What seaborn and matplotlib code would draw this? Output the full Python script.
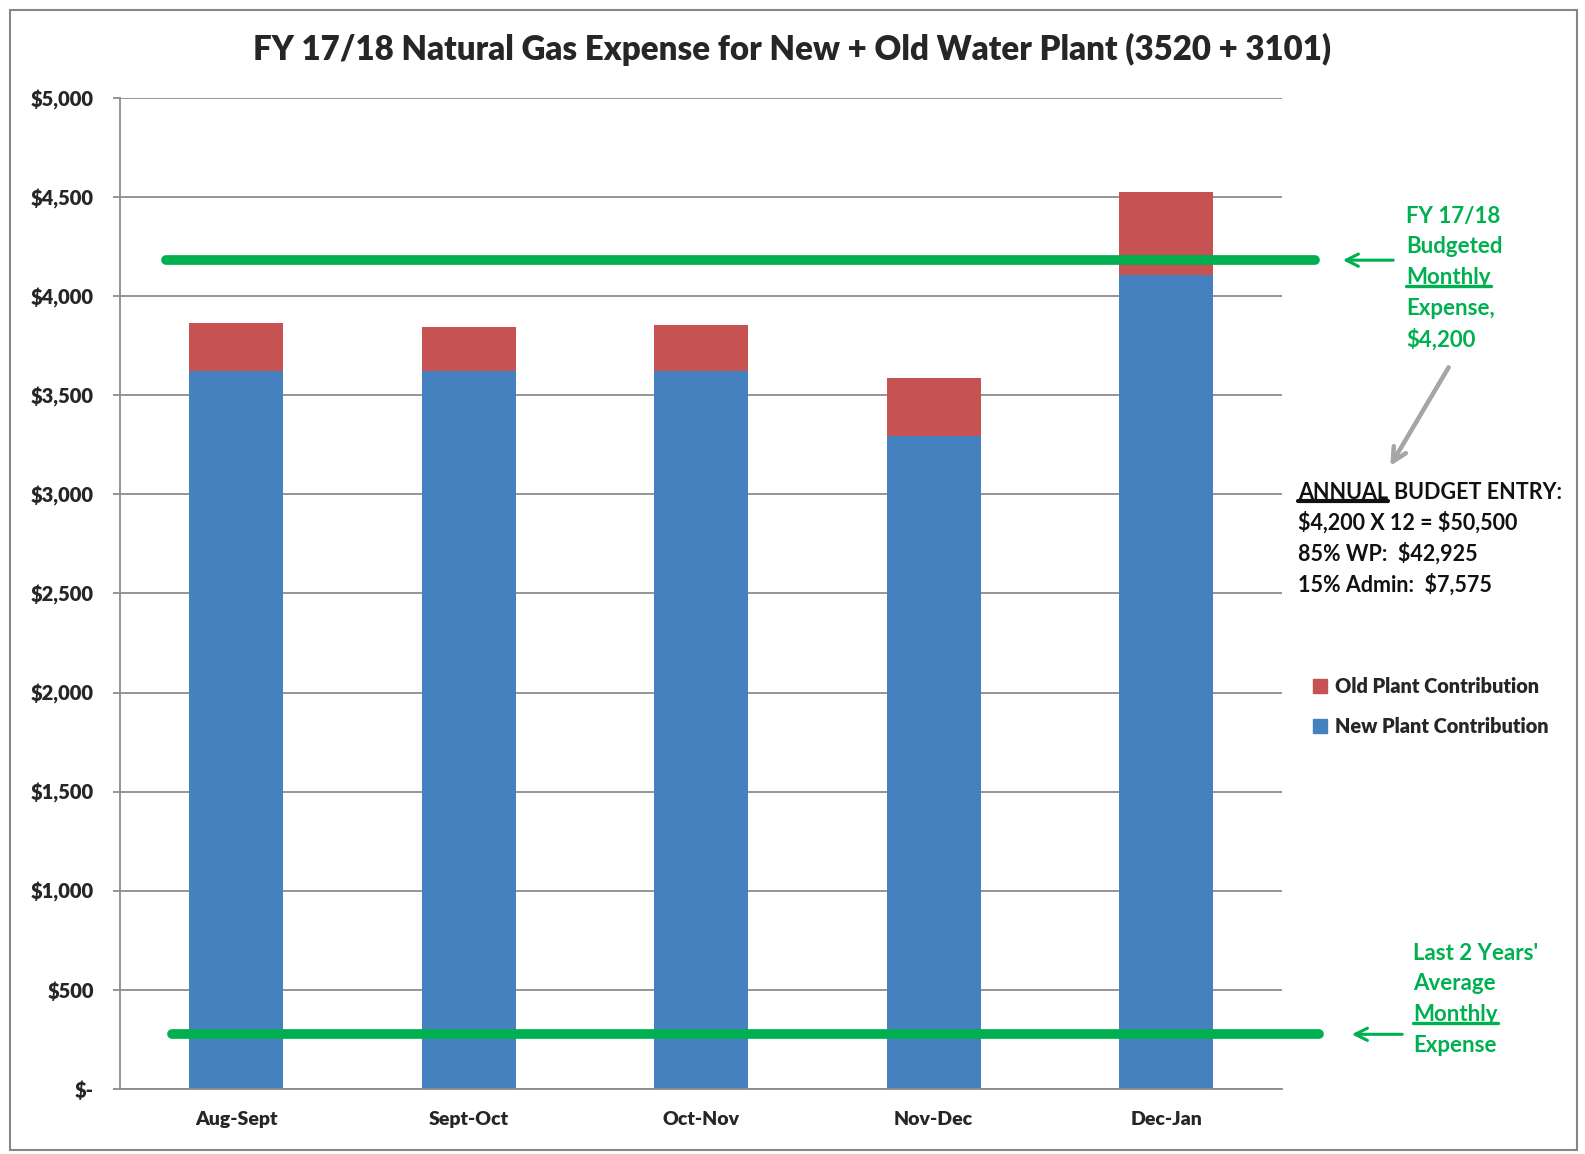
import matplotlib
matplotlib.use("Agg")
import matplotlib.pyplot as plt
import seaborn as sns
import pandas as pd
from matplotlib.patches import Patch, Rectangle
from matplotlib.lines import Line2D

# ----------------------------- data -----------------------------
periods = ["Aug-Sept", "Sept-Oct", "Oct-Nov", "Nov-Dec", "Dec-Jan"]
new_plant = [3623, 3623, 3623, 3294, 4109]
old_plant = [244, 220, 230, 292, 419]
budget_monthly = 4182
last2yr_avg = 275
ytick_values = [0, 500, 1000, 1500, 2000, 2500, 3000, 3500, 4000, 4500, 5000]
ytick_labels = ["$-", "$500", "$1,000", "$1,500", "$2,000", "$2,500",
                "$3,000", "$3,500", "$4,000", "$4,500", "$5,000"]

budget_note = ["FY 17/18", "Budgeted", "Monthly", "Expense,", "$4,200"]
avg_note = ["Last 2 Years'", "Average", "Monthly", "Expense"]
annual_note = ["$4,200 X 12 = $50,500", "85% WP:  $42,925", "15% Admin:  $7,575"]
# ----------------------------------------------------------------

BLUE = "#4681BF"
RED = "#C65252"
GREEN = "#00B050"
GRID = "#8C8C8C"

sns.set_style("white")
plt.rcParams["font.family"] = ["Lato", "DejaVu Sans"]
plt.rcParams["text.parse_math"] = False

df = pd.DataFrame({"period": periods, "new": new_plant, "old": old_plant})
df["total"] = df["new"] + df["old"]

fig = plt.figure(figsize=(15.85, 11.54), dpi=100)
ax = fig.add_axes([0.0757, 0.0565, 0.7333, 0.8585])

# stacked bars: total (red) underneath, new plant (blue) on top
sns.barplot(data=df, x="period", y="total", color=RED, width=0.405,
            errorbar=None, linewidth=0, saturation=1, ax=ax, zorder=2)
sns.barplot(data=df, x="period", y="new", color=BLUE, width=0.405,
            errorbar=None, linewidth=0, saturation=1, ax=ax, zorder=2)

ax.set_xlim(-0.5, len(periods) - 0.5)
ax.set_ylim(0, 5000)
ax.set_yticks(ytick_values)
ax.set_yticklabels(ytick_labels, fontsize=14.5, fontweight="heavy")
ax.set_xticks(range(len(periods)))
ax.set_xticklabels(periods, fontsize=14, fontweight="heavy")
ax.set_xticks([i - 0.5 for i in range(len(periods) + 1)], minor=True)
ax.tick_params(axis="x", which="major", length=0, pad=16)
ax.tick_params(axis="x", which="minor", length=5, width=1.3, color=GRID, direction="out")
ax.tick_params(axis="y", length=5, width=1.3, color=GRID, direction="out", pad=14, left=True)
ax.set_xlabel("")
ax.set_ylabel("")
ax.grid(axis="y", color=GRID, linewidth=1.3, zorder=0)
ax.set_axisbelow(True)
for s in ["top", "right"]:
    ax.spines[s].set_visible(False)
for s in ["left", "bottom"]:
    ax.spines[s].set_color(GRID)
    ax.spines[s].set_linewidth(1.3)

# reference lines
ax.axhline(budget_monthly, xmin=0.04, xmax=1.028, color=GREEN, linewidth=7,
           clip_on=False, zorder=4)
ax.axhline(last2yr_avg, xmin=0.045, xmax=1.032, color=GREEN, linewidth=7,
           clip_on=False, zorder=4)

fig.suptitle("FY 17/18 Natural Gas Expense for New + Old Water Plant (3520 + 3101)",
             x=0.5, y=0.957, fontsize=23.8, fontweight="heavy", va="center")

W, H = 1585, 1154


def fx(px):
    return px / W


def fy(py):
    return 1 - py / H


renderer = fig.canvas.get_renderer()


def underline(t, color, lw):
    bb = t.get_window_extent(renderer=renderer)
    y = bb.y0 + 2
    fig.add_artist(Line2D([bb.x0 / W, bb.x1 / W], [y / H, y / H], color=color,
                          linewidth=lw, transform=fig.transFigure))


NOTE_SIZE = 15.5
GREEN_SIZE = 16

# green annotation: budget
for i, line in enumerate(budget_note):
    t = fig.text(fx(1406), fy(216 + i * 30.8), line, color=GREEN, fontsize=GREEN_SIZE,
                 fontweight="bold", va="center", ha="left")
    if line == "Monthly":
        underline(t, GREEN, 2.4)

ax.annotate("", xy=(fx(1340), budget_monthly), xytext=(fx(1396), budget_monthly),
            xycoords=("figure fraction", "data"), textcoords=("figure fraction", "data"),
            arrowprops=dict(arrowstyle="->", color=GREEN, lw=2.2, mutation_scale=22),
            annotation_clip=False)

# green annotation: last 2 years
for i, line in enumerate(avg_note):
    t = fig.text(fx(1413), fy(953 + i * 30.8), line, color=GREEN, fontsize=GREEN_SIZE,
                 fontweight="bold", va="center", ha="left")
    if line == "Monthly":
        underline(t, GREEN, 2.4)

ax.annotate("", xy=(fx(1349), last2yr_avg), xytext=(fx(1405), last2yr_avg),
            xycoords=("figure fraction", "data"), textcoords=("figure fraction", "data"),
            arrowprops=dict(arrowstyle="->", color=GREEN, lw=2.2, mutation_scale=22),
            annotation_clip=False)

# gray arrow to annual entry
fig.add_artist(plt.annotate("", xy=(fx(1389), fy(468)), xytext=(fx(1450), fy(365)),
                            xycoords="figure fraction",
                            arrowprops=dict(arrowstyle="->", color="#A6A6A6", lw=3,
                                            mutation_scale=25)))

# annual budget entry text
t = fig.text(fx(1298), fy(493), "ANNUAL", color="#111111", fontsize=NOTE_SIZE,
             fontweight="bold", va="center", ha="left")
underline(t, "#111111", 3)
bb = t.get_window_extent(renderer=renderer)
fig.text((bb.x1 + 6) / W, fy(493), "BUDGET ENTRY:", color="#111111", fontsize=NOTE_SIZE,
         fontweight="bold", va="center", ha="left")
for i, line in enumerate(annual_note):
    fig.text(fx(1298), fy(523 + i * 30.8), line, color="#111111", fontsize=NOTE_SIZE,
             fontweight="bold", va="center", ha="left")

# legend
handles = [Patch(color=RED, label="Old Plant Contribution"),
           Patch(color=BLUE, label="New Plant Contribution")]
ax.legend(handles=handles, loc="upper left", bbox_to_anchor=(fx(1313), fy(677)),
          bbox_transform=fig.transFigure, frameon=False, handlelength=0.72,
          handleheight=0.72, handletextpad=0.4, labelspacing=1.05,
          prop={"size": 14.3, "weight": "heavy"}, borderaxespad=0, borderpad=0)

# chart border
fig.add_artist(Rectangle((fx(10), fy(1150)), fx(1567), 1140 / H, fill=False,
                         edgecolor="#868686", linewidth=1.5, transform=fig.transFigure))

fig.savefig("out.png", dpi=100)
